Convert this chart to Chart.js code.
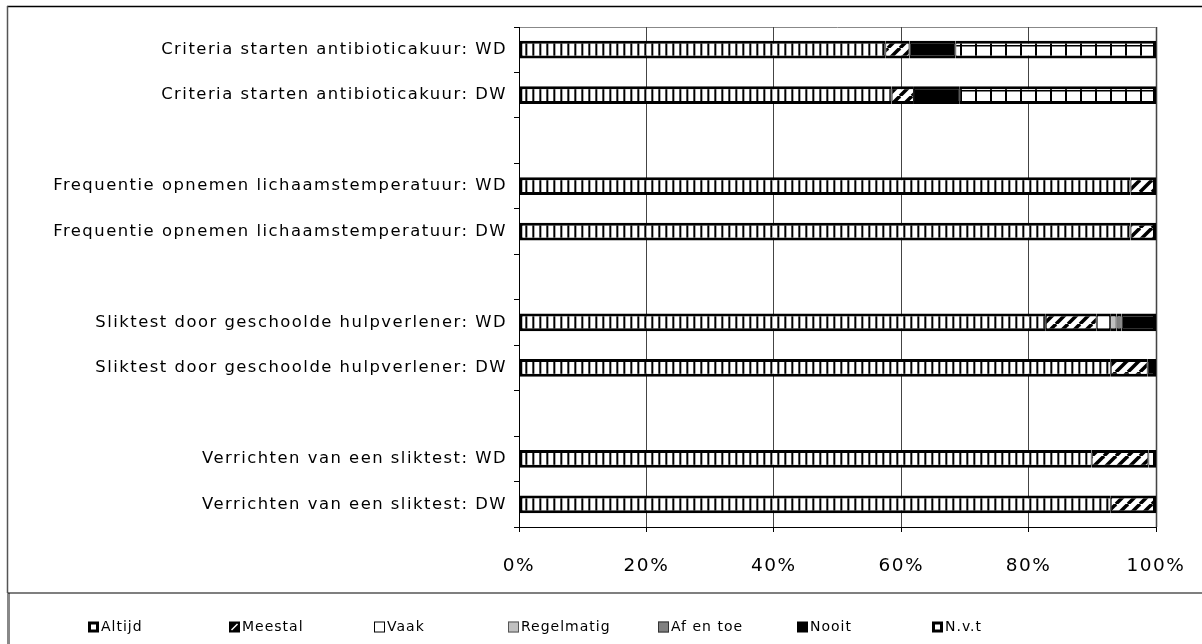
<!DOCTYPE html>
<html><head><meta charset="utf-8">
<script src="https://cdn.jsdelivr.net/npm/chart.js@4/dist/chart.umd.min.js"></script>
<style>html,body{margin:0;padding:0;background:#fff;}#wrap{position:relative;width:1202px;height:644px;}</style>
</head><body><div id="wrap"><canvas id="c" width="1202" height="644"></canvas></div>
<script>
// ---- data ----
const categories = [
  'Criteria starten antibioticakuur: WD',
  'Criteria starten antibioticakuur: DW',
  '',
  'Frequentie opnemen lichaamstemperatuur: WD',
  'Frequentie opnemen lichaamstemperatuur: DW',
  ' ',
  'Sliktest door geschoolde hulpverlener: WD',
  'Sliktest door geschoolde hulpverlener: DW',
  '  ',
  'Verrichten van een sliktest: WD',
  'Verrichten van een sliktest: DW'
];
const seriesNames = ['Altijd','Meestal','Vaak','Regelmatig','Af en toe','Nooit','N.v.t'];
const altijd     = [57.5, 58.5, null, 96, 96, null, 82.7, 92.9, null, 89.9, 92.9];
const meestal    = [3.8, 3.5, null, 4, 4, null, 8.0, 5.8, null, 8.9, 7.1];
const vaak       = [null, null, null, null, null, null, 2.1, null, null, null, null];
const regelmatig = [null, null, null, null, null, null, 1.0, null, null, null, null];
const afEnToe    = [null, null, null, null, null, null, 0.8, null, null, null, null];
const nooit      = [7.2, 7.2, null, null, null, null, 5.4, 1.3, null, null, null];
const nvt        = [31.5, 30.8, null, null, null, null, null, null, null, 1.2, null];
const xTickValues = [0, 20, 40, 60, 80, 100];
const xTickLabels = ['0%', '20%', '40%', '60%', '80%', '100%'];

const seriesData = [altijd, meestal, vaak, regelmatig, afEnToe, nooit, nvt];

// ---- patterns ----
function makePattern(w, h, draw) {
  const cv = document.createElement('canvas');
  cv.width = w; cv.height = h;
  const g = cv.getContext('2d');
  g.fillStyle = '#fff'; g.fillRect(0, 0, w, h);
  draw(g, w, h);
  return document.getElementById('c').getContext('2d').createPattern(cv, 'repeat');
}
const patAltijd = makePattern(7, 7, (g) => {
  g.fillStyle = '#555'; g.fillRect(0, 0, 1, 7);
  g.fillStyle = '#000'; g.fillRect(1, 0, 1, 7);
  g.fillStyle = '#aaa'; g.fillRect(2, 0, 1, 7);
});
const patMeestal = makePattern(12, 12, (g, w, h) => {
  g.strokeStyle = '#000'; g.lineWidth = 3.5;
  for (const o of [-w, 0, w]) { g.beginPath(); g.moveTo(o, h); g.lineTo(o + w, 0); g.stroke(); }
});
const patNvt = makePattern(15, 15, (g) => { g.fillStyle = '#000'; g.fillRect(0, 0, 2, 15); g.fillRect(0, 0, 15, 1.5); });
const fills = [patAltijd, patMeestal, '#ffffff', '#c0c0c0', '#808080', '#000000', patNvt];

function firstLast(row) {
  let first = -1, last = -1;
  seriesData.forEach((arr, i) => { if (arr[row] != null) { if (first < 0) first = i; last = i; } });
  return [first, last];
}

const datasets = seriesNames.map((name, i) => ({
  label: name,
  data: seriesData[i],
  backgroundColor: fills[i],
  borderColor: '#000',
  borderSkipped: false,
  borderWidth: (ctx) => {
    const [f, l] = firstLast(ctx.dataIndex);
    return { top: 3, bottom: 3, left: ctx.datasetIndex === f ? 3 : 1, right: ctx.datasetIndex === l ? 3 : 1 };
  },
  barPercentage: 0.39,
  categoryPercentage: 1.0
}));

// ---- plugins ----
const framePlugin = {
  id: 'frame',
  beforeDraw(chart) {
    const ctx = chart.ctx;
    ctx.save();
    ctx.fillStyle = '#fff'; ctx.fillRect(0, 0, chart.width, chart.height);
    ctx.strokeStyle = '#000'; ctx.lineWidth = 1.5;
    ctx.beginPath(); ctx.moveTo(7, 6.5); ctx.lineTo(1202, 6.5); ctx.stroke();
    ctx.strokeStyle = '#555'; ctx.lineWidth = 1.5;
    ctx.beginPath(); ctx.moveTo(7.5, 6); ctx.lineTo(7.5, 593); ctx.stroke();
    ctx.strokeStyle = '#888'; ctx.lineWidth = 3;
    ctx.beginPath(); ctx.moveTo(8.5, 593); ctx.lineTo(8.5, 644); ctx.stroke();
    ctx.strokeStyle = '#000'; ctx.lineWidth = 1.2;
    ctx.beginPath(); ctx.moveTo(8, 593); ctx.lineTo(1202, 593); ctx.stroke();
    // plot area top / right border
    const a = chart.chartArea;
    ctx.strokeStyle = '#888'; ctx.lineWidth = 1;
    ctx.beginPath(); ctx.moveTo(a.left, a.top + 0.5); ctx.lineTo(a.right, a.top + 0.5); ctx.stroke();
    ctx.strokeStyle = '#999'; ctx.lineWidth = 2;
    ctx.beginPath(); ctx.moveTo(a.right + 0.5, a.top); ctx.lineTo(a.right + 0.5, a.bottom); ctx.stroke();
    ctx.restore();
    ctx.letterSpacing = '1.5px';
  },
  afterDraw(chart) {
    const ctx = chart.ctx;
    ctx.letterSpacing = '0px';
    // legend
    const xs = [88, 229, 374, 508, 658, 797, 932];
    const cy = 627;
    ctx.save();
    ctx.letterSpacing = '1px';
    ctx.font = '14px "DejaVu Sans"';
    ctx.textBaseline = 'middle';
    ctx.fillStyle = '#000';
    seriesNames.forEach((name, i) => {
      const s = 11, x = xs[i], y = cy - 5.5;
      ctx.save();
      if (i === 0 || i === 6) {
        ctx.fillStyle = '#000'; ctx.fillRect(x, y, s, s);
        ctx.fillStyle = '#fff'; ctx.fillRect(x + 3, y + 3, s - 6, s - 6);
      } else if (i === 1) {
        ctx.fillStyle = '#000'; ctx.fillRect(x, y, s, s);
        ctx.strokeStyle = '#fff'; ctx.lineWidth = 1.5;
        ctx.beginPath(); ctx.moveTo(x + 2.5, y + s - 2.5); ctx.lineTo(x + s - 2.5, y + 2.5); ctx.stroke();
      } else if (i === 2) {
        ctx.fillStyle = '#fff'; ctx.fillRect(x, y, s, s);
        ctx.strokeStyle = '#000'; ctx.lineWidth = 1; ctx.strokeRect(x + 0.5, y + 0.5, s - 1, s - 1);
      } else if (i === 3) {
        ctx.fillStyle = '#c0c0c0'; ctx.fillRect(x, y, s, s);
        ctx.strokeStyle = '#555'; ctx.lineWidth = 1; ctx.strokeRect(x + 0.5, y + 0.5, s - 1, s - 1);
      } else if (i === 4) {
        ctx.fillStyle = '#808080'; ctx.fillRect(x, y, s, s);
        ctx.strokeStyle = '#333'; ctx.lineWidth = 1; ctx.strokeRect(x + 0.5, y + 0.5, s - 1, s - 1);
      } else {
        ctx.fillStyle = '#000'; ctx.fillRect(x, y, s, s);
      }
      ctx.restore();
      ctx.fillText(name, x + s + 2, cy);
    });
    ctx.restore();
  }
};

new Chart(document.getElementById('c'), {
  type: 'bar',
  data: { labels: categories, datasets },
  plugins: [framePlugin],
  options: {
    indexAxis: 'y',
    responsive: false,
    devicePixelRatio: 1,
    animation: false,
    layout: { padding: { left: 0, right: 46, top: 27, bottom: 0 } },
    plugins: { legend: { display: false }, tooltip: { enabled: false } },
    scales: {
      y: {
        stacked: true,
        grid: { offset: true, drawOnChartArea: false, tickLength: 5, color: '#000', lineWidth: 1 },
        border: { color: '#000', width: 1 },
        ticks: { font: { family: 'DejaVu Sans', size: 16.4 }, color: '#000', padding: 7, autoSkip: false },
        afterFit(s) { s.width = 519; s.paddingTop = 0; s.paddingBottom = 0; }
      },
      x: {
        stacked: true,
        min: 0, max: 100,
        afterBuildTicks(s) { s.ticks = xTickValues.map(v => ({ value: v })); },
        ticks: {
          font: { family: 'DejaVu Sans', size: 18.5 }, color: '#000', padding: 23, maxRotation: 0,
          callback: (v) => xTickLabels[xTickValues.indexOf(v)]
        },
        grid: { color: '#444', tickLength: 5, tickColor: '#000', lineWidth: 1 },
        border: { color: '#000', width: 1 },
        afterFit(s) { s.height = 117; s.paddingLeft = 0; s.paddingRight = 0; }
      }
    }
  }
});
</script>
</body></html>
